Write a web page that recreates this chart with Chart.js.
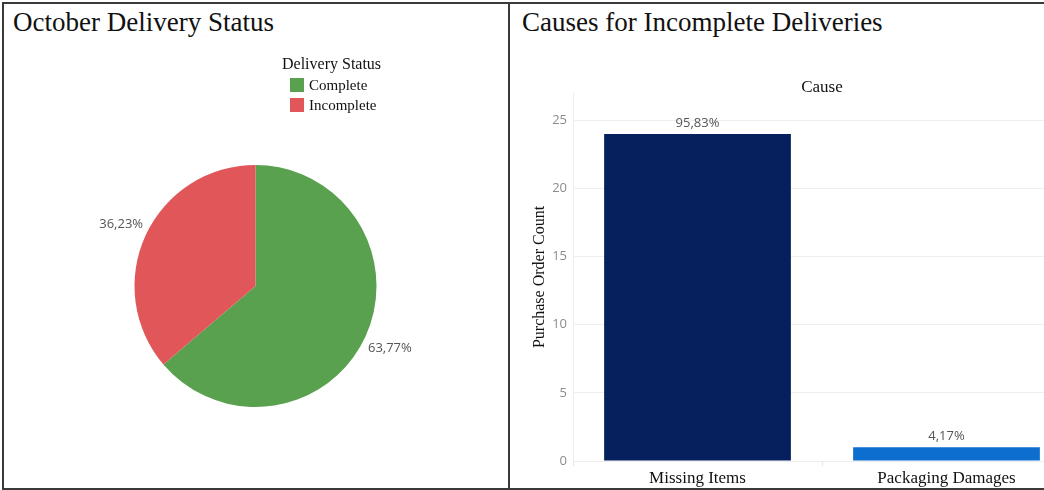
<!DOCTYPE html>
<html>
<head>
<meta charset="utf-8">
<script src="https://cdn.jsdelivr.net/npm/chart.js@4"></script>
<style>
  html, body { margin: 0; padding: 0; background: #fff; }
  body { width: 1044px; height: 490px; position: relative; overflow: hidden; font-family: "Liberation Serif", serif; }
  .frame { position: absolute; left: 2px; top: 2px; width: 1060px; height: 484px; border: 2px solid #3a3a3a; }
  .divider { position: absolute; left: 508px; top: 2px; width: 2px; height: 488px; background: #3a3a3a; }
  .title { position: absolute; top: 7px; font-size: 27px; color: #111; white-space: nowrap; }
  .box { position: absolute; overflow: hidden; }
  #legend { position: absolute; left: 282px; top: 55px; color: #111; }
  #legend .ltitle { font-size: 16px; margin-bottom: 2px; }
  #legend .item { font-size: 15px; height: 20px; line-height: 20px; padding-left: 8px; }
  #legend .sw { display: inline-block; width: 14px; height: 14px; vertical-align: -2px; margin-right: 5px; }
</style>
</head>
<body>
<div class="frame"></div>
<div class="divider"></div>
<div class="title" style="left:13px">October Delivery Status</div>
<div class="title" style="left:522px">Causes for Incomplete Deliveries</div>

<div class="box" style="left:4px; top:4px; width:503px; height:482px;">
  <canvas id="pie"></canvas>
</div>
<div id="legend"></div>

<div class="box" style="left:511px; top:4px; width:533px; height:484px;">
  <div style="width:560px; height:484px; position:relative;">
    <canvas id="bar"></canvas>
  </div>
</div>

<script>
// delivery status split (pie)
const statusLabels = ['Complete', 'Incomplete'];
const statusValues = [63.77, 36.23];
const statusTexts = ['63,77%', '36,23%'];
const statusColors = ['#59a14f', '#e15759'];

// causes (bars)
const causeLabels = ['Missing Items', 'Packaging Damages'];
const causeCounts = [24, 1];
const causeTexts = ['95,83%', '4,17%'];
const causeColors = ['#061f5d', '#0e6ecf'];

const yMax = 27;
const yStep = 5;

// html legend for the pie
const legend = document.getElementById('legend');
legend.innerHTML = '<div class="ltitle">Delivery Status</div>' +
  statusLabels.map((l, i) => `<div class="item"><span class="sw" style="background:${statusColors[i]}"></span>${l}</div>`).join('');

const pieLabelPlugin = {
  id: 'pieLabels',
  afterDatasetsDraw(chart) {
    const ctx = chart.ctx;
    const meta = chart.getDatasetMeta(0);
    ctx.save();
    ctx.font = '13px "Open Sans", sans-serif';
    ctx.fillStyle = '#555';
    ctx.textAlign = 'center';
    ctx.textBaseline = 'middle';
    meta.data.forEach((arc, i) => {
      const p = arc.getProps(['x', 'y', 'startAngle', 'endAngle', 'outerRadius'], true);
      const mid = (p.startAngle + p.endAngle) / 2;
      const r = p.outerRadius + 27;
      ctx.fillText(statusTexts[i], p.x + Math.cos(mid) * r, p.y + Math.sin(mid) * r);
    });
    ctx.restore();
  }
};

new Chart(document.getElementById('pie'), {
  type: 'pie',
  data: {
    labels: statusLabels,
    datasets: [{ data: statusValues, backgroundColor: statusColors, borderWidth: 0 }]
  },
  options: {
    responsive: true, maintainAspectRatio: false, animation: false,
    devicePixelRatio: 1,
    layout: { padding: { top: 161, bottom: 79 } },
    plugins: { legend: { display: false }, tooltip: { enabled: false } }
  },
  plugins: [pieLabelPlugin]
});

const barLabelPlugin = {
  id: 'barLabels',
  afterDatasetsDraw(chart) {
    const ctx = chart.ctx;
    const meta = chart.getDatasetMeta(0);
    ctx.save();
    ctx.font = '13px "Open Sans", sans-serif';
    ctx.fillStyle = '#555';
    ctx.textAlign = 'center';
    ctx.textBaseline = 'middle';
    meta.data.forEach((bar, i) => {
      ctx.fillText(causeTexts[i], bar.x, bar.y - 11);
    });
    ctx.restore();
  }
};

new Chart(document.getElementById('bar'), {
  type: 'bar',
  data: {
    labels: causeLabels,
    datasets: [{
      data: causeCounts, backgroundColor: causeColors, borderWidth: 0,
      categoryPercentage: 1, barPercentage: 0.75
    }]
  },
  options: {
    responsive: true, maintainAspectRatio: false, animation: false,
    devicePixelRatio: 1,
    layout: { padding: { top: 58, left: 0, right: 0, bottom: 0 } },
    plugins: { legend: { display: false }, tooltip: { enabled: false } },
    scales: {
      x: {
        grid: { display: true, drawOnChartArea: false, drawTicks: true, tickLength: 5, color: '#e6e6e6' },
        border: { color: '#eeeeee' },
        ticks: { color: '#111', font: { family: '"Liberation Serif", serif', size: 17 }, padding: 2, maxRotation: 0 },
        afterFit: s => { s.height = 27; }
      },
      x2: {
        position: 'top',
        grid: { display: false },
        border: { display: false },
        ticks: { display: false },
        title: { display: true, text: 'Cause', color: '#111', font: { family: '"Liberation Serif", serif', size: 17 }, padding: { top: 15, bottom: 0 } },
        afterFit: s => { s.height = 31; }
      },
      y: {
        min: 0, max: yMax,
        ticks: { stepSize: yStep, color: '#8c8c8c', font: { family: '"Open Sans", sans-serif', size: 13 }, padding: 6 },
        afterBuildTicks: s => { s.ticks = s.ticks.filter(t => t.value % yStep === 0); },
        grid: { color: '#efefef', drawTicks: false },
        border: { color: '#eeeeee' },
        title: { display: true, text: 'Purchase Order Count', color: '#111', font: { family: '"Liberation Serif", serif', size: 16 }, padding: { top: 19, bottom: 0 } },
        afterFit: s => { s.width = 62; }
      }
    }
  },
  plugins: [barLabelPlugin]
});
</script>
</body>
</html>
